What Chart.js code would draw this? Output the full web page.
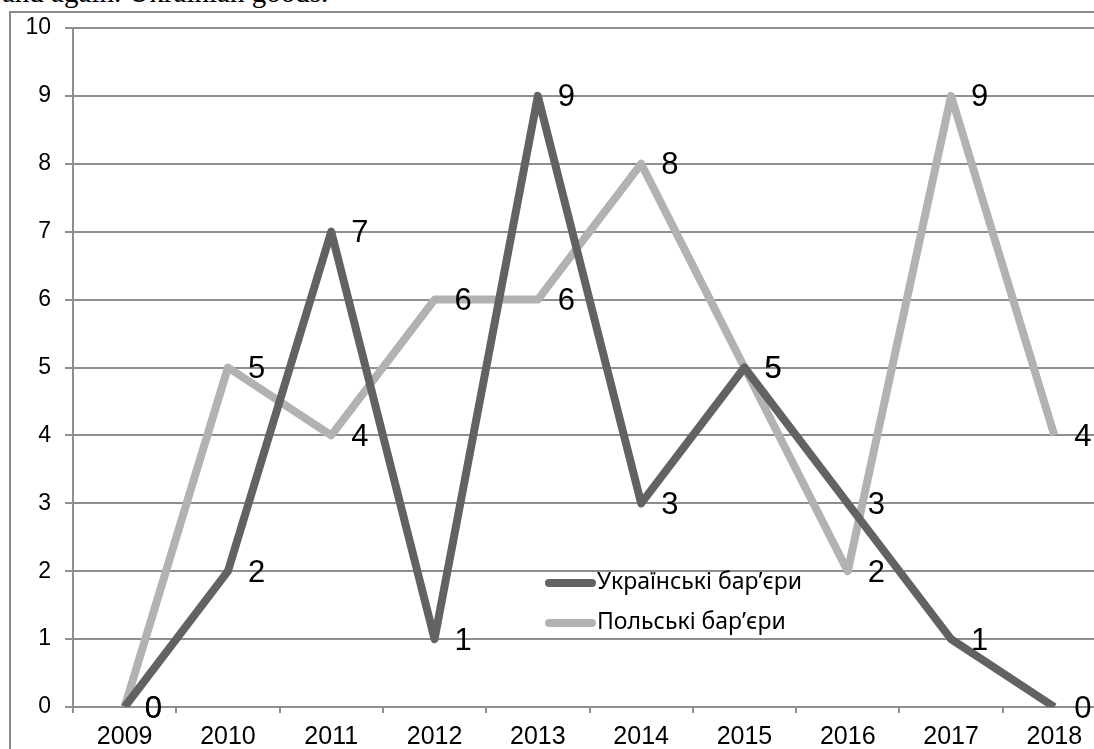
<!DOCTYPE html>
<html>
<head>
<meta charset="utf-8">
<script src="https://cdn.jsdelivr.net/npm/chart.js@4"></script>
<style>
  body { margin: 0; background: #fff; overflow: hidden; width: 1094px; height: 749px; position: relative; }
  #top { position: absolute; left: 2px; top: -25px; line-height: 34px; font-size: 29px; font-family: "Liberation Serif", "Times New Roman", serif; color: #000; white-space: nowrap; }
  #wrap { position: absolute; left: 0; top: 0; width: 1120px; height: 749px; }
</style>
</head>
<body>
<div id="top">and again. Ukrainian goods.</div>
<div id="wrap"><canvas id="lineChart"></canvas></div>
<script>
var years = ["2009", "2010", "2011", "2012", "2013", "2014", "2015", "2016", "2017", "2018"];
var ukrValues = [0, 2, 7, 1, 9, 3, 5, 3, 1, 0];
var polValues = [0, 5, 4, 6, 6, 8, 5, 2, 9, 4];
var seriesNames = ["Українські бар’єри", "Польські бар’єри"];

var gridColor = "#8e8e8e";
var xFont = { size: 25, family: "'Liberation Sans', Arial, sans-serif" };
var yFont = { size: 23, family: "'Liberation Sans', Arial, sans-serif" };

// numbers to the right of each point
var valueLabels = {
  id: "valueLabels",
  afterDatasetsDraw: function(chart) {
    var ctx = chart.ctx;
    ctx.save();
    ctx.fillStyle = "#000";
    ctx.font = "31px 'Liberation Sans', Arial, sans-serif";
    ctx.textAlign = "left";
    ctx.textBaseline = "middle";
    chart.data.datasets.forEach(function(ds, i) {
      chart.getDatasetMeta(i).data.forEach(function(pt, j) {
        ctx.fillText(String(ds.data[j]), pt.x + 20, pt.y + 2);
      });
    });
    ctx.restore();
  }
};

// legend inside the plot
var innerLegend = {
  id: "innerLegend",
  afterDraw: function(chart) {
    var ctx = chart.ctx;
    ctx.save();
    ctx.font = "23px 'Noto Sans', 'DejaVu Sans', sans-serif";
    ctx.textBaseline = "middle";
    ctx.fillStyle = "#000";
    chart.data.datasets.forEach(function(ds, i) {
      var y = 583 + i * 40;
      ctx.strokeStyle = ds.borderColor;
      ctx.lineWidth = 8;
      ctx.lineCap = "round";
      ctx.beginPath();
      ctx.moveTo(549, y);
      ctx.lineTo(592, y);
      ctx.stroke();
      ctx.fillText(ds.label, 597, y - 1);
    });
    ctx.restore();
  }
};

// outer frame (left and top edges visible)
var frame = {
  id: "frame",
  beforeDraw: function(chart) {
    var ctx = chart.ctx;
    ctx.save();
    ctx.strokeStyle = "#8a8a8a";
    ctx.lineWidth = 2;
    ctx.beginPath();
    ctx.moveTo(10, 760);
    ctx.lineTo(10, 12);
    ctx.lineTo(1120, 12);
    ctx.stroke();
    ctx.restore();
  }
};

var ctxL = document.getElementById("lineChart").getContext("2d");
var myLineChart = new Chart(ctxL, {
  type: "line",
  data: {
    labels: years,
    datasets: [{
        label: seriesNames[0],
        data: ukrValues,
        borderColor: "#626262",
        backgroundColor: "#626262",
        borderWidth: 8,
        borderJoinStyle: "round",
        pointRadius: 0,
        tension: 0
      },
      {
        label: seriesNames[1],
        data: polValues,
        borderColor: "#b2b2b2",
        backgroundColor: "#b2b2b2",
        borderWidth: 8,
        borderJoinStyle: "round",
        pointRadius: 0,
        tension: 0
      }
    ]
  },
  options: {
    responsive: true,
    maintainAspectRatio: false,
    animation: false,
    layout: { padding: { left: 10, top: 28, right: 14, bottom: 0 } },
    plugins: { legend: { display: false }, tooltip: { enabled: false } },
    scales: {
      x: {
        offset: true,
        grid: { offset: true, drawOnChartArea: false, drawTicks: true, tickLength: 6, color: gridColor, lineWidth: 2 },
        border: { color: gridColor, width: 2 },
        ticks: { color: "#000", font: xFont, padding: 9, maxRotation: 0 },
        afterFit: function(scale) { scale.height = 42; }
      },
      y: {
        min: 0,
        max: 10,
        ticks: { stepSize: 1, color: "#000", font: yFont, padding: 14 },
        grid: { color: gridColor, lineWidth: 2, tickLength: 8 },
        border: { color: gridColor, width: 2 },
        afterFit: function(scale) { scale.width = 63; }
      }
    }
  },
  plugins: [frame, valueLabels, innerLegend]
});
</script>
</body>
</html>
